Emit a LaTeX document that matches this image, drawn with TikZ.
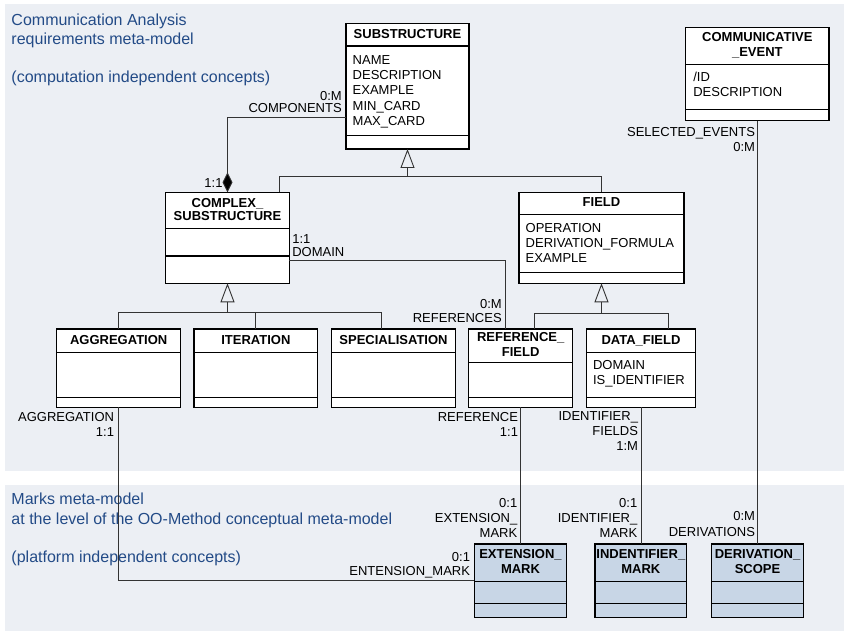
\documentclass[tikz,border=0pt]{standalone}
\usepackage{fontspec}
\setmainfont{Liberation Sans}
\usetikzlibrary{arrows.meta}

\definecolor{panelbg}{HTML}{ECEFF4}
\definecolor{titleblue}{HTML}{234B87}
\definecolor{markfill}{HTML}{C8D6E6}

% A UML class: name, x1, y1, x2, y2 (top-left / bottom-right, y downwards),
% the two compartment rules, and the fill colour.
\newcommand\umlclass[8]{%
  \node[umlbox, fill=#8, minimum width={#4-#2}, minimum height={#5-#3}]
    (#1) at ({(#2+#4)/2},{-(#3+#5)/2}) {};
  \draw[boxrule] (#1.west |- 0,-#6) -- (#1.east |- 0,-#6);
  \draw[boxrule] (#1.west |- 0,-#7) -- (#1.east |- 0,-#7);
}

\begin{document}
\begin{tikzpicture}[x=1pt, y=1pt,
  umlbox/.style={draw=black, line width=1.2pt, inner sep=0pt, outer sep=0pt},
  boxrule/.style={draw=black, line width=1.2pt},
  conn/.style={draw=black!80, line width=0.9pt},
  gen/.style={conn, -{Triangle[open, length=19pt, width=14pt, fill=panelbg]}},
  comp/.style={conn, -{Diamond[length=20pt, width=10pt, fill=black]}},
  txt/.style={inner sep=0pt, outer sep=0pt, text=black,
              font=\fontsize{13}{15.3}\selectfont},
  ctitle/.style={txt, font=\fontsize{13}{15.5}\selectfont\bfseries, align=center, anchor=north},
  attrs/.style={txt, align=left, anchor=north west},
  rlbl/.style={txt, align=right, anchor=north east, font=\fontsize{13}{15}\selectfont},
  llbl/.style={txt, align=left, anchor=north west, font=\fontsize{13}{15}\selectfont},
  blue/.style={inner sep=0pt, outer sep=0pt, text=titleblue, align=left,
               anchor=north west, font=\fontsize{16}{19.2}\selectfont}
]
\useasboundingbox (0,0) rectangle (844,-631);
\fill[white] (0,0) rectangle (844,-631);

% two layers
\fill[panelbg] (5,-4) rectangle (844,-470.7);
\fill[panelbg] (5,-485) rectangle (844,-631);

\node[blue] (capt-ca) at (11.5,-13.8)
  {Communication Analysis\\requirements meta-model\\[19pt](computation independent concepts)};
\node[blue] (capt-mk) at (11.5,-493.3)
  {Marks meta-model\\at the level of the OO-Method conceptual meta-model\\[19pt](platform independent concepts)};

% classes
\umlclass{sub}{346}{23.3}{469}{149}{46}{135.3}{white}
\umlclass{ce}{685.7}{27.3}{829}{120.7}{64.3}{109.3}{white}
\umlclass{cplx}{165.7}{192.3}{289.3}{283.3}{228.7}{256}{white}
\umlclass{field}{519}{192.3}{684}{283.3}{214.3}{272.3}{white}
\umlclass{agg}{56.7}{329}{180.7}{407.3}{352.3}{397.3}{white}
\umlclass{iter}{194}{329}{317.7}{407.3}{352.3}{397.3}{white}
\umlclass{spec}{331.7}{329}{455.3}{407.3}{352.3}{397.3}{white}
\umlclass{reff}{468.7}{329}{572.7}{407.3}{362.7}{397.3}{white}
\umlclass{dfield}{586.7}{329}{695.3}{407.3}{352.3}{397.3}{white}
\umlclass{extm}{474.3}{544}{566.7}{617.3}{581.7}{603.3}{markfill}
\umlclass{idm}{595}{544}{686.7}{617.3}{581.7}{603.3}{markfill}
\umlclass{ds}{711.7}{544}{803.3}{617.3}{581.7}{603.3}{markfill}

% class names
\node[ctitle] (sub-n) at ([yshift=-6.1pt]sub.north) {SUBSTRUCTURE};
\node[ctitle] (ce-n) at ([yshift=-4.7pt]ce.north) {COMMUNICATIVE\\\_EVENT};
\node[ctitle] (cplx-n) at ([yshift=-6.3pt]cplx.north) {COMPLEX\_\\[-2.2pt]SUBSTRUCTURE};
\node[ctitle] (field-n) at ([yshift=-5.7pt]field.north) {FIELD};
\node[ctitle] (agg-n) at ([yshift=-6.4pt]agg.north) {AGGREGATION};
\node[ctitle] (iter-n) at ([yshift=-6.4pt]iter.north) {ITERATION};
\node[ctitle] (spec-n) at ([yshift=-6.4pt]spec.north) {SPECIALISATION};
\node[ctitle] (reff-n) at ([yshift=-3pt]reff.north) {REFERENCE\_\\FIELD};
\node[ctitle] (dfield-n) at ([yshift=-6.4pt]dfield.north) {DATA\_FIELD};
\node[ctitle] (extm-n) at ([yshift=-5.4pt]extm.north) {EXTENSION\_\\[-0.3pt]MARK};
\node[ctitle] (idm-n) at ([yshift=-5.4pt]idm.north) {INDENTIFIER\_\\[-0.3pt]MARK};
\node[ctitle] (ds-n) at ([yshift=-5.4pt]ds.north) {DERIVATION\_\\[-0.3pt]SCOPE};

% attributes
\node[attrs] (sub-a) at (352.7,-55.4)
  {NAME\\DESCRIPTION\\EXAMPLE\\MIN\_CARD\\MAX\_CARD};
\node[attrs] (ce-a) at (693.3,-72.2) {/ID\\DESCRIPTION};
\node[attrs] (field-a) at (525.7,-223)
  {OPERATION\\DERIVATION\_FORMULA\\EXAMPLE};
\node[attrs] (dfield-a) at (593,-360.4) {DOMAIN\\IS\_IDENTIFIER};

% composition: complex substructure owns its components
\draw[comp] (sub.west |- 0,-117.3) -| (cplx.north);

% generalisation of SUBSTRUCTURE
\coordinate (j-sub) at (407.5,-176);
\draw[conn] (cplx.north -| 279.3,0) -- (279.3,-176) -| (field.north);
\draw[gen] (j-sub) -- (sub.south);

% generalisation of COMPLEX_SUBSTRUCTURE
\coordinate (j-cplx) at (227.5,-312.7);
\draw[conn] (agg.north) |- (j-cplx) -- (381,-312.7) -- (spec.north -| 381,0);
\draw[conn] (iter.north) -- (iter.north |- j-cplx);
\draw[gen] (j-cplx) -- (cplx.south);

% generalisation of FIELD
\coordinate (j-field) at (601.5,-313.3);
\draw[conn] (reff.north -| 534,0) |- (j-field) -- (668,-313.3) -- (dfield.north -| 668,0);
\draw[gen] (j-field) -- (field.south);

% associations
\draw[conn] (cplx.east |- 0,-260.7) -| (reff.north -| 505,0);
\draw[conn] (agg.south) |- (extm.west);
\draw[conn] (reff.south) -- (reff.south |- extm.north);
\draw[conn] (dfield.south) -- (dfield.south |- idm.north);
\draw[conn] (ce.south) -- (ce.south |- ds.north);

% role names and cardinalities
\node[rlbl] (r-comp) at (341.7,-91) {0:M\\[-2.4pt]COMPONENTS};
\node[rlbl] (r-own) at (222.5,-178.3) {1:1};
\node[llbl] (r-dom) at (292.3,-234.7) {1:1\\[-2.6pt]DOMAIN};
\node[rlbl] (r-refs) at (501.7,-299.4) {0:M\\[-1.3pt]REFERENCES};
\node[rlbl] (r-agg) at (114,-412) {AGGREGATION\\1:1};
\node[rlbl] (r-ref) at (518,-412) {REFERENCE\\1:1};
\node[rlbl] (r-idf) at (638,-411.4) {IDENTIFIER\_\\FIELDS\\1:M};
\node[rlbl] (r-sel) at (755,-127.4) {SELECTED\_EVENTS\\[-0.3pt]0:M};
\node[rlbl] (r-ext) at (517.3,-498.7) {0:1\\[-0.3pt]EXTENSION\_\\[-0.3pt]MARK};
\node[rlbl] (r-idm) at (637.3,-498.7) {0:1\\[-0.3pt]IDENTIFIER\_\\[-0.3pt]MARK};
\node[rlbl] (r-der) at (755,-511.4) {0:M\\[0.7pt]DERIVATIONS};
\node[rlbl] (r-ent) at (470,-552) {0:1\\[-1pt]ENTENSION\_MARK};
\end{tikzpicture}
\end{document}
